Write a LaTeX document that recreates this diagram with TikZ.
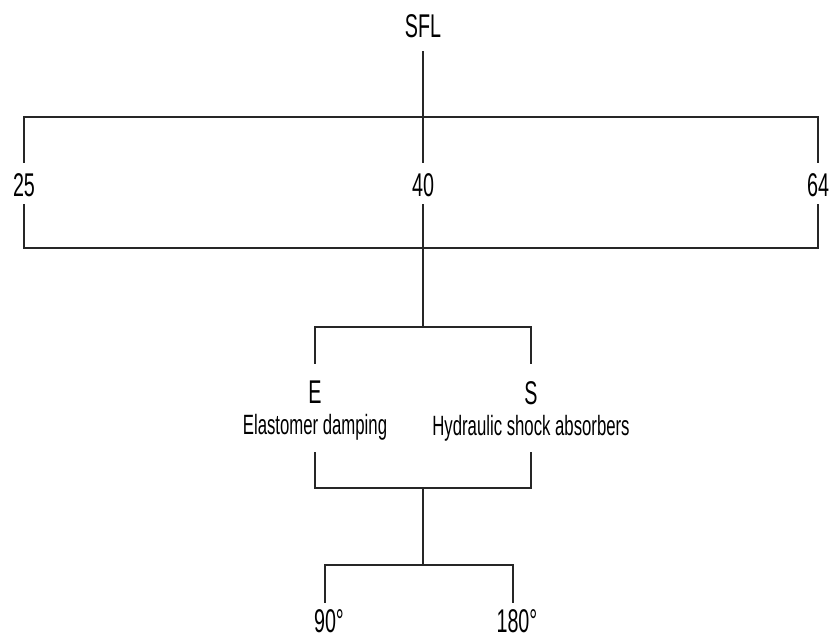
\documentclass[tikz,border=0pt]{standalone}
\usepackage{fontspec}
\setmainfont{Liberation Sans}[FakeStretch=0.6]
\begin{document}
\begin{tikzpicture}[x=1bp,y=-1bp,
  conn/.style={line width=1.2bp, draw=black!85},
  big/.style={font=\fontsize{33}{36}\selectfont, inner sep=0pt, anchor=base},
  small/.style={font=\fontsize{28}{32}\selectfont, inner sep=0pt, anchor=base}]
\useasboundingbox (0,0) rectangle (834,637);
% levels
\coordinate (topbar) at (423,117);
\coordinate (midbar) at (423,248);
\coordinate (esbar) at (423,327);
\coordinate (lowbar) at (423,488);
\coordinate (botbar) at (423,565);
% nodes
\node[big, text height=34bp, text depth=13bp] (sfl) at (423,38) {SFL};
\node[big, text height=34bp, text depth=7bp] (n25) at (24,197) {25};
\node[big, text height=34bp, text depth=7bp] (n40) at (423,197) {40};
\node[big, text height=34bp, text depth=7bp] (n64) at (818,197) {64};
\node[big, text height=39bp, text depth=0bp] (e) at (315,403) {E};
\node[big, text height=40bp, text depth=0bp] (s) at (531,404) {S};
\node[small, text height=20bp, text depth=18bp] (elast) at (315,434) {Elastomer damping};
\node[small, text height=20bp, text depth=17bp] (hyd) at (531,435) {Hydraulic shock absorbers};
\node[big, text height=29bp, text depth=2bp] (n90) at (325,632) {90\rlap{°}};
\node[big, text height=29bp, text depth=2bp] (n180) at (513,632) {180\rlap{°}};
% connectors
\draw[conn] (sfl.south) -- (n40.north);
\draw[conn] (n25.north) -- (n25.north |- topbar) -- (n64.north |- topbar) -- (n64.north);
\draw[conn] (n25.south) -- (n25.south |- midbar) -- (n64.south |- midbar) -- (n64.south);
\draw[conn] (n40.south) -- (esbar);
\draw[conn] (e.north) -- (e.north |- esbar) -- (s.north |- esbar) -- (s.north);
\draw[conn] (elast.south) -- (elast.south |- lowbar) -- (hyd.south |- lowbar) -- (hyd.south);
\draw[conn] (lowbar) -- (botbar);
\draw[conn] (n90.north) -- (n90.north |- botbar) -- (n180.north |- botbar) -- (n180.north);
\end{tikzpicture}
\end{document}
